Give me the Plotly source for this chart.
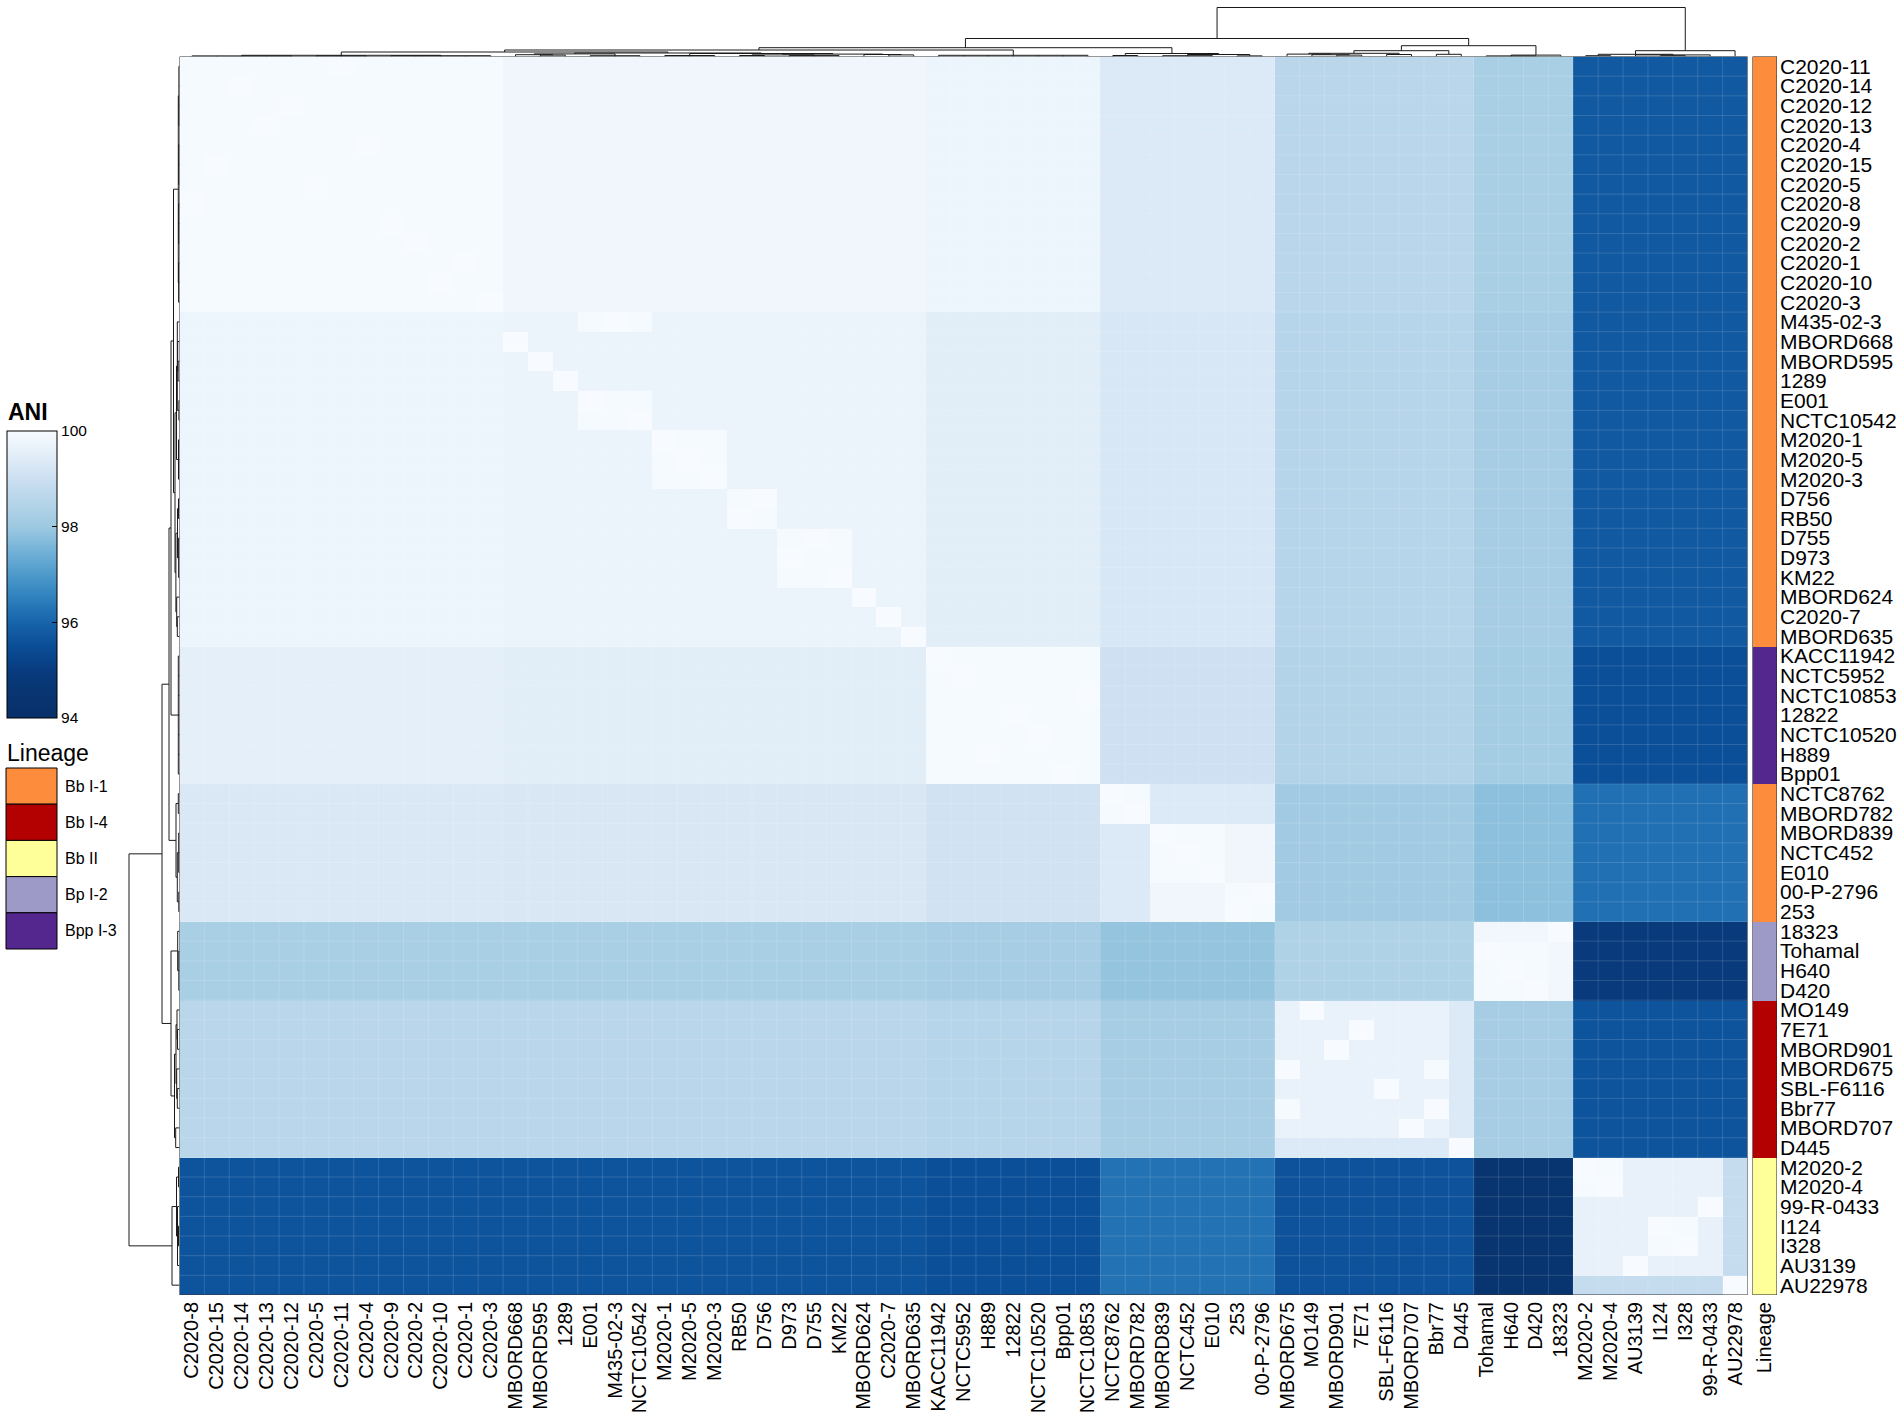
import numpy as np
import plotly.graph_objects as go

# ---------------- data ----------------
row_labels = ["C2020-11", "C2020-14", "C2020-12", "C2020-13", "C2020-4", "C2020-15", "C2020-5",
              "C2020-8", "C2020-9", "C2020-2", "C2020-1", "C2020-10", "C2020-3", "M435-02-3",
              "MBORD668", "MBORD595", "1289", "E001", "NCTC10542", "M2020-1", "M2020-5", "M2020-3",
              "D756", "RB50", "D755", "D973", "KM22", "MBORD624", "C2020-7", "MBORD635",
              "KACC11942", "NCTC5952", "NCTC10853", "12822", "NCTC10520", "H889", "Bpp01",
              "NCTC8762", "MBORD782", "MBORD839", "NCTC452", "E010", "00-P-2796", "253",
              "18323", "Tohamal", "H640", "D420",
              "MO149", "7E71", "MBORD901", "MBORD675", "SBL-F6116", "Bbr77", "MBORD707", "D445",
              "M2020-2", "M2020-4", "99-R-0433", "I124", "I328", "AU3139", "AU22978"]

col_labels = ["C2020-8", "C2020-15", "C2020-14", "C2020-13", "C2020-12", "C2020-5", "C2020-11",
              "C2020-4", "C2020-9", "C2020-2", "C2020-10", "C2020-1", "C2020-3", "MBORD668",
              "MBORD595", "1289", "E001", "M435-02-3", "NCTC10542", "M2020-1", "M2020-5", "M2020-3",
              "RB50", "D756", "D973", "D755", "KM22", "MBORD624", "C2020-7", "MBORD635",
              "KACC11942", "NCTC5952", "H889", "12822", "NCTC10520", "Bpp01", "NCTC10853",
              "NCTC8762", "MBORD782", "MBORD839", "NCTC452", "E010", "253", "00-P-2796",
              "MBORD675", "MO149", "MBORD901", "7E71", "SBL-F6116", "MBORD707", "Bbr77", "D445",
              "Tohamal", "H640", "D420", "18323",
              "M2020-2", "M2020-4", "AU3139", "I124", "I328", "99-R-0433", "AU22978"]

row_lineage = (["Bb I-1"] * 30 + ["Bpp I-3"] * 7 + ["Bb I-1"] * 7 + ["Bp I-2"] * 4
               + ["Bb I-4"] * 8 + ["Bb II"] * 7)

lineage_names = ["Bb I-1", "Bb I-4", "Bb II", "Bp I-2", "Bpp I-3"]
lineage_colors = ["#FD8D3C", "#B30000", "#FFFF99", "#9E9AC8", "#54278F"]

# subgroups of near-identical genomes: (name, coarse group, members)
subgroups = [
    ("C2020", "C", ["C2020-1", "C2020-2", "C2020-3", "C2020-4", "C2020-5", "C2020-8", "C2020-9",
                    "C2020-10", "C2020-11", "C2020-12", "C2020-13", "C2020-14", "C2020-15"]),
    ("MBORD668", "B", ["MBORD668"]), ("MBORD595", "B", ["MBORD595"]), ("1289", "B", ["1289"]),
    ("E001", "B", ["E001", "M435-02-3", "NCTC10542"]),
    ("M2020", "B", ["M2020-1", "M2020-5", "M2020-3"]),
    ("D756", "B", ["D756", "RB50"]), ("D755", "B", ["D755", "D973", "KM22"]),
    ("MBORD624", "B", ["MBORD624"]), ("C2020-7", "B", ["C2020-7"]), ("MBORD635", "B", ["MBORD635"]),
    ("Bpp", "P", ["KACC11942", "NCTC5952", "NCTC10853", "12822", "NCTC10520", "H889", "Bpp01"]),
    ("D1", "D", ["NCTC8762", "MBORD782"]), ("D2", "D", ["MBORD839", "NCTC452", "E010"]),
    ("D3", "D", ["253", "00-P-2796"]),
    ("Bp1", "Bp", ["18323"]), ("Bp2", "Bp", ["Tohamal", "H640", "D420"]),
    ("MO149", "I4", ["MO149"]), ("7E71", "I4", ["7E71"]), ("MBORD901", "I4", ["MBORD901"]),
    ("MBORD675", "I4", ["MBORD675", "Bbr77"]), ("SBL-F6116", "I4", ["SBL-F6116"]),
    ("MBORD707", "I4", ["MBORD707"]), ("D445", "I4", ["D445"]),
    ("II1", "II", ["M2020-2", "M2020-4"]), ("II2", "II", ["99-R-0433"]),
    ("II3", "II", ["I124", "I328"]), ("II4", "II", ["AU3139"]), ("II5", "II", ["AU22978"]),
]
within_subgroup_ani = 99.96

group_order = ["C", "B", "P", "D", "Bp", "I4", "II"]
# ANI: row group (rows) vs column group (columns)
group_ani = [
    [99.96, 99.82, 99.75, 99.35, 98.25, 98.60, 95.75],
    [99.75, 99.70, 99.45, 99.25, 98.20, 98.55, 95.75],
    [99.55, 99.45, 99.96, 99.05, 98.15, 98.45, 95.55],
    [99.30, 99.28, 99.10, 99.35, 97.80, 98.10, 96.22],
    [98.25, 98.25, 98.20, 97.90, 99.85, 98.40, 94.90],
    [98.60, 98.60, 98.55, 98.20, 98.20, 99.65, 95.65],
    [95.65, 95.65, 95.55, 96.25, 94.50, 95.60, 99.62],
]
pair_exceptions = [
    ("D2", "D3", 99.82), ("Bp1", "Bp2", 99.85),
    ("D445", "MO149", 99.35), ("D445", "7E71", 99.35), ("D445", "MBORD901", 99.35),
    ("D445", "MBORD675", 99.35), ("D445", "SBL-F6116", 99.35), ("D445", "MBORD707", 99.35),
    ("II5", "II1", 98.85), ("II5", "II2", 98.85), ("II5", "II3", 98.85), ("II5", "II4", 98.85),
]

# dendrograms: [height(px), child, child, ...]; leaves are labels
row_tree = [50.5,
    [17.5,
        [10.5,
            [8.5,
                [6.0,
                    [1.2,
                        [0.6, "C2020-11", "C2020-14", "C2020-12", "C2020-13"],
                        [0.7, "C2020-4", "C2020-15", "C2020-5"],
                        [0.8, "C2020-8", "C2020-9", "C2020-2"],
                        [0.9, "C2020-1", "C2020-10", "C2020-3"]],
                    [4.5,
                        [3.0,
                            [2.2, "M435-02-3", [1.8, "MBORD668", [1.4, "MBORD595", "1289"]],
                             [0.6, "E001", "NCTC10542"]],
                            [1.0, "M2020-1", "M2020-5", "M2020-3"]],
                        [3.6,
                            [2.0, [1.0, "D756", "RB50"], [0.9, "D755", "D973", "KM22"]],
                            [2.8, "MBORD624", [2.2, "C2020-7", "MBORD635"]]]]],
                [1.2, "KACC11942", "NCTC5952", "NCTC10853", "12822", "NCTC10520", "H889", "Bpp01"]],
            [3.5, [1.2, "NCTC8762", "MBORD782"],
             [2.2, [0.8, "MBORD839", "NCTC452", "E010"], [0.7, "00-P-2796", "253"]]]],
        [8.5,
            [1.8, "18323", [0.7, "Tohamal", "H640", "D420"]],
            [5.0, [3.5, [2.5, "MO149", [2.0, "7E71", "MBORD901"]],
                   [2.8, "MBORD675", [2.2, "SBL-F6116", "Bbr77"]]],
             [3.8, "MBORD707", "D445"]]]],
    [7.5,
        [3.0, [1.0, "M2020-2", "M2020-4"], [2.0, "99-R-0433", [1.0, "I124", "I328"], "AU3139"]],
        "AU22978"]]

col_tree = [49.0,
    [18.0,
        [8.8,
            [6.5,
                [4.5,
                    [1.2,
                        [0.6, "C2020-8", "C2020-15", "C2020-14", "C2020-13", "C2020-12"],
                        [0.7, "C2020-5", "C2020-11", "C2020-4"],
                        [0.8, "C2020-9", "C2020-2", "C2020-10", "C2020-1", "C2020-3"]],
                    [3.5,
                        [2.6, [1.8, "MBORD668", [1.4, "MBORD595", "1289"]],
                         [0.8, "E001", "M435-02-3", "NCTC10542"]],
                        [3.0, [1.0, "M2020-1", "M2020-5", "M2020-3"],
                         [2.4, [1.6, [1.0, "RB50", "D756"], [0.9, "D973", "D755", "KM22"]],
                          [2.0, "MBORD624", [1.6, "C2020-7", "MBORD635"]]]]]],
                [1.2, "KACC11942", "NCTC5952", "H889", "12822", "NCTC10520", "Bpp01", "NCTC10853"]],
            [3.0, [1.0, "NCTC8762", "MBORD782"],
             [2.0, [0.8, "MBORD839", "NCTC452", "E010"], [0.6, "253", "00-P-2796"]]]],
        [10.8,
            [5.8, [3.2, [2.4, "MBORD675", [1.8, "MO149", [1.4, "MBORD901", "7E71"]]],
                   [2.0, "SBL-F6116", "MBORD707"]],
             [2.2, "Bbr77", "D445"]],
            [1.4, [0.6, "Tohamal", "H640", "D420"], "18323"]]],
    [5.8,
        [2.2, [0.8, "M2020-2", "M2020-4"], [1.6, "AU3139", [0.8, "I124", "I328"], "99-R-0433"]],
        "AU22978"]]

# ---------------- build matrix ----------------
sub_of, grp_of = {}, {}
for name, grp, members in subgroups:
    for m in members:
        sub_of[m] = name
        grp_of[m] = grp
exc = {}
for a, b, v in pair_exceptions:
    exc[(a, b)] = v
    exc[(b, a)] = v
gi = {g: k for k, g in enumerate(group_order)}

n_r, n_c = len(row_labels), len(col_labels)
z = np.zeros((n_r, n_c))
for i, r in enumerate(row_labels):
    for j, c in enumerate(col_labels):
        if r == c:
            v = 100.0
        elif sub_of[r] == sub_of[c]:
            v = within_subgroup_ani
        elif (sub_of[r], sub_of[c]) in exc:
            v = exc[(sub_of[r], sub_of[c])]
        else:
            v = group_ani[gi[grp_of[r]]][gi[grp_of[c]]]
        z[i, j] = v

# ---------------- layout geometry (px) ----------------
W, H = 1901, 1418
HM_L, HM_R, HM_T, HM_B = 179.5, 1747.5, 56.5, 1295.0
ANN_L, ANN_R = 1752.5, 1777.0
FONT = "Liberation Sans, Arial, sans-serif"

ani_stops = [(94.0, "#08306B"), (94.5, "#08346F"), (95.0, "#083C7F"), (95.5, "#0A4D96"),
             (96.0, "#1764AB"), (96.5, "#2E80BD"), (97.0, "#4E9ACB"), (97.5, "#74B2D8"),
             (98.0, "#9DC9E1"), (98.5, "#B5D4E9"), (99.0, "#CCDFF1"), (99.5, "#E3EEF8"),
             (100.0, "#F7FBFF")]
colorscale = [[(v - 94.0) / 6.0, c] for v, c in ani_stops]

fig = go.Figure()
fig.add_trace(go.Heatmap(
    z=z, x=list(range(n_c)), y=list(range(n_r)), zmin=94, zmax=100,
    colorscale=colorscale, xaxis="x", yaxis="y", hoverinfo="z",
    colorbar=dict(x=7 / W, xanchor="left", y=1 - 431 / H, yanchor="top",
                  len=287, lenmode="pixels", thickness=50, thicknessmode="pixels",
                  xpad=0, ypad=0, outlinewidth=1, outlinecolor="black",
                  tickvals=[94, 96, 98, 100], ticks="inside", ticklen=5, tickcolor="black",
                  tickfont=dict(size=15.5, family=FONT, color="black"))))

# lineage annotation column
code = {n: k for k, n in enumerate(lineage_names)}
nl = len(lineage_names)
ann_cs = []
for k, c in enumerate(lineage_colors):
    ann_cs.append([k / nl, c])
    ann_cs.append([(k + 1) / nl, c])
fig.add_trace(go.Heatmap(
    z=[[code[l]] for l in row_lineage], x=[0], y=list(range(n_r)),
    zmin=-0.5, zmax=nl - 0.5, colorscale=ann_cs, showscale=False,
    xaxis="x3", yaxis="y3", hoverinfo="skip"))


def dendro(node, pos):
    ps, hs = [], []

    def rec(n):
        if isinstance(n, str):
            return pos[n], 0.0
        h = n[0]
        kids = [rec(k) for k in n[1:]]
        cps = [k[0] for k in kids]
        for p, kh in kids:
            ps.extend([p, p, None])
            hs.extend([kh, h, None])
        ps.extend([min(cps), max(cps), None])
        hs.extend([h, h, None])
        return (min(cps) + max(cps)) / 2.0, h

    rec(node)
    return ps, hs


cp, ch = dendro(col_tree, {l: k for k, l in enumerate(col_labels)})
fig.add_trace(go.Scatter(x=cp, y=ch, mode="lines", line=dict(color="#1a1a1a", width=1),
                         xaxis="x2", yaxis="y2", hoverinfo="skip", showlegend=False))
rp, rh = dendro(row_tree, {l: k for k, l in enumerate(row_labels)})
fig.add_trace(go.Scatter(x=rh, y=rp, mode="lines", line=dict(color="#1a1a1a", width=1),
                         xaxis="x4", yaxis="y4", hoverinfo="skip", showlegend=False))

hm_xdom = [HM_L / W, HM_R / W]
hm_ydom = [1 - HM_B / H, 1 - HM_T / H]
hidden = dict(showgrid=False, zeroline=False, showticklabels=False, showline=False, ticks="")

fig.update_layout(
    width=W, height=H, margin=dict(l=0, r=0, t=0, b=0, autoexpand=False),
    paper_bgcolor="white", plot_bgcolor="white", showlegend=False,
    font=dict(family=FONT, color="black"),
    xaxis=dict(domain=hm_xdom, range=[-0.5, n_c - 0.5], anchor="y",
               tickvals=list(range(n_c)), ticktext=col_labels, tickangle=-90,
               tickfont=dict(size=20, family=FONT, color="black"),
               showgrid=False, zeroline=False, showline=False, ticks="", ticklabelstandoff=2),
    yaxis=dict(domain=hm_ydom, range=[n_r - 0.5, -0.5], anchor="x", **hidden),
    xaxis3=dict(domain=[ANN_L / W, ANN_R / W], range=[-0.5, 0.5], anchor="y3",
                tickvals=[0], ticktext=["Lineage"], tickangle=-90,
                tickfont=dict(size=20, family=FONT, color="black"),
                showgrid=False, zeroline=False, showline=False, ticks="", ticklabelstandoff=2),
    yaxis3=dict(domain=hm_ydom, range=[n_r - 0.5, -0.5], anchor="x3", side="right",
                tickvals=list(range(n_r)), ticktext=row_labels,
                tickfont=dict(size=21, family=FONT, color="black"),
                showgrid=False, zeroline=False, showline=False, ticks="", ticklabelstandoff=2),
    xaxis2=dict(domain=hm_xdom, range=[-0.5, n_c - 0.5], anchor="y2", **hidden),
    yaxis2=dict(domain=[1 - HM_T / H, 1 - 5 / H], range=[0, HM_T - 5], anchor="x2", **hidden),
    xaxis4=dict(domain=[(HM_L - 60) / W, HM_L / W], range=[60, 0], anchor="y4", **hidden),
    yaxis4=dict(domain=hm_ydom, range=[n_r - 0.5, -0.5], anchor="x4", **hidden),
)

shapes = []
for k in range(1, n_c):
    shapes.append(dict(type="line", xref="x", yref="y", x0=k - 0.5, x1=k - 0.5,
                       y0=-0.5, y1=n_r - 0.5, line=dict(color="rgba(255,255,255,0.14)", width=1)))
for k in range(1, n_r):
    shapes.append(dict(type="line", xref="x", yref="y", y0=k - 0.5, y1=k - 0.5,
                       x0=-0.5, x1=n_c - 0.5, line=dict(color="rgba(255,255,255,0.14)", width=1)))
shapes.append(dict(type="rect", xref="x", yref="y", x0=-0.5, x1=n_c - 0.5, y0=-0.5, y1=n_r - 0.5,
                   line=dict(color="#333333", width=1)))
shapes.append(dict(type="rect", xref="x3", yref="y3", x0=-0.5, x1=0.5, y0=-0.5, y1=n_r - 0.5,
                   line=dict(color="#222222", width=1)))

annotations = [
    dict(text="<b>ANI</b>", x=6 / W, y=1 - 412 / H, xref="paper", yref="paper",
         xanchor="left", yanchor="middle", showarrow=False, font=dict(size=23, family=FONT)),
    dict(text="Lineage", x=5 / W, y=1 - 753 / H, xref="paper", yref="paper",
         xanchor="left", yanchor="middle", showarrow=False, font=dict(size=23, family=FONT)),
]
box_top, box_h = 768.0, 36.2
for k, (name, col) in enumerate(zip(lineage_names, lineage_colors)):
    y0 = box_top + k * box_h
    shapes.append(dict(type="rect", xref="paper", yref="paper", x0=6 / W, x1=57 / W,
                       y0=1 - (y0 + box_h) / H, y1=1 - y0 / H, fillcolor=col,
                       line=dict(color="black", width=1)))
    annotations.append(dict(text=name, x=63 / W, y=1 - (y0 + box_h / 2) / H, xref="paper",
                            yref="paper", xanchor="left", yanchor="middle", showarrow=False,
                            font=dict(size=16, family=FONT)))

fig.update_layout(shapes=shapes, annotations=annotations)
fig.write_html("out.html", config={"displayModeBar": False},
               post_script="document.body.style.margin='0';document.body.style.overflow='hidden';")
